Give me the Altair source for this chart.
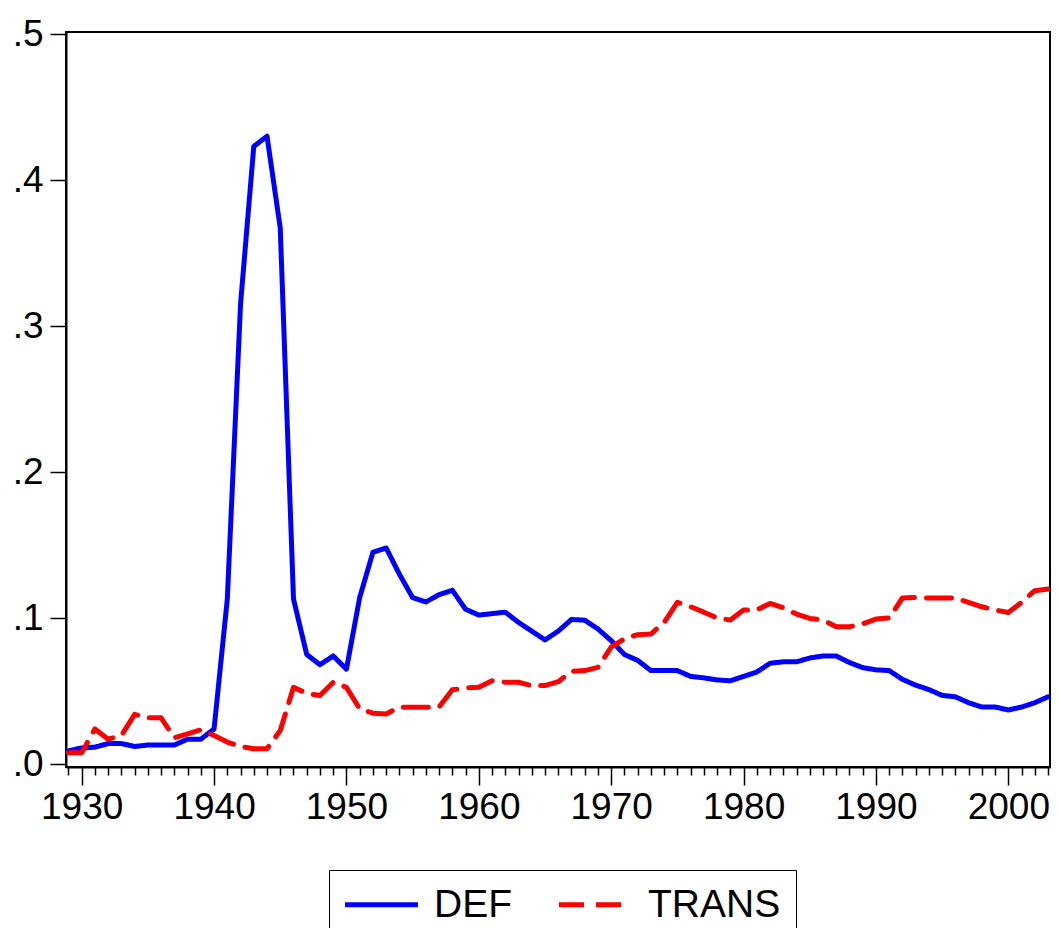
import altair as alt
import pandas as pd

years = list(range(1929, 2004))

def_vals = [
    0.009, 0.011, 0.0115, 0.014, 0.014, 0.012, 0.013, 0.013, 0.013, 0.017,   # 1929-1938
    0.017, 0.024, 0.113, 0.315, 0.423, 0.430, 0.367, 0.113, 0.075, 0.068,    # 1939-1948
    0.074, 0.065, 0.114, 0.145, 0.148, 0.130, 0.114, 0.111, 0.116, 0.119,    # 1949-1958
    0.106, 0.102, 0.103, 0.104, 0.097, 0.091, 0.085, 0.091, 0.099, 0.0985,   # 1959-1968
    0.0925, 0.0845, 0.075, 0.071, 0.064, 0.064, 0.064, 0.060, 0.059, 0.0576, # 1969-1978
    0.057, 0.060, 0.063, 0.069, 0.070, 0.070, 0.0726, 0.074, 0.074, 0.0695,  # 1979-1988
    0.066, 0.0645, 0.064, 0.058, 0.054, 0.051, 0.047, 0.046, 0.042, 0.039,   # 1989-1998
    0.039, 0.037, 0.039, 0.042, 0.046,                                       # 1999-2003
]

trans_vals = [
    0.0077, 0.0077, 0.024, 0.017, 0.0195, 0.034, 0.0316, 0.0316, 0.018, 0.0206,  # 1929-1938
    0.0234, 0.0195, 0.015, 0.012, 0.0104, 0.0104, 0.0229, 0.0525, 0.0484, 0.0469, # 1939-1948
    0.056, 0.0525, 0.0378, 0.0348, 0.0343, 0.0389, 0.0389, 0.0389, 0.039, 0.0508, # 1949-1958
    0.0521, 0.0525, 0.057, 0.056, 0.056, 0.0537, 0.0537, 0.0564, 0.0635, 0.064,   # 1959-1968
    0.0662, 0.080, 0.0857, 0.0886, 0.089, 0.097, 0.1107, 0.1077, 0.104, 0.100,    # 1969-1978
    0.0986, 0.1055, 0.1055, 0.110, 0.107, 0.1027, 0.0997, 0.0986, 0.094, 0.094,   # 1979-1988
    0.096, 0.0993, 0.100, 0.1137, 0.114, 0.1137, 0.1137, 0.1137, 0.1107, 0.1077,  # 1989-1998
    0.1055, 0.1038, 0.1107, 0.1187, 0.1198,                                       # 1999-2003
]

series_names = ["DEF", "TRANS"]
series_colors = ["#0000ff", "#ff0000"]
series_dashes = [[1, 0], [25, 12]]
x_ticks = list(range(1929, 2004))
y_ticks = [0.0, 0.1, 0.2, 0.3, 0.4, 0.5]

df = pd.DataFrame({
    "year": years + years,
    "value": def_vals + trans_vals,
    "series": [series_names[0]] * len(years) + [series_names[1]] * len(years),
})

FONT = "Liberation Sans, Arial, sans-serif"

legend = alt.Legend(
    title=None,
    orient="none",
    legendX=263,
    legendY=838,
    direction="horizontal",
    strokeColor="black",
    fillColor="white",
    padding=15,
    cornerRadius=0,
    labelFont=FONT,
    labelFontSize=39,
    labelColor="black",
    labelOffset=33,
    columnPadding=36,
    symbolOffset=18,
    symbolType="M-2.5,0L2.5,0",
    symbolSize=853,
    symbolStrokeWidth=5,
)

chart = alt.Chart(df).mark_line(
    strokeWidth=5, strokeCap="round", strokeJoin="round", clip=True
).encode(
    x=alt.X(
        "year:Q",
        scale=alt.Scale(domain=[1928.814, 2003.15], nice=False, zero=False),
        axis=alt.Axis(
            title=None,
            values=x_ticks,
            grid=False,
            tickSize={"condition": {"test": "datum.value % 10 === 0", "value": 18}, "value": 8},
            labelExpr="datum.value % 10 === 0 ? '' + datum.value : ''",
            labelOverlap=False,
            labelFlush=False,
            labelPadding=4,
        ),
    ),
    y=alt.Y(
        "value:Q",
        scale=alt.Scale(domain=[-0.00205, 0.50137], nice=False, zero=False),
        axis=alt.Axis(
            title=None,
            values=y_ticks,
            grid=False,
            tickSize=16,
            labelPadding=7,
            labelExpr="slice(format(datum.value, '.1f'), 1)",
            labelOverlap=False,
            labelFlush=False,
        ),
    ),
    color=alt.Color(
        "series:N",
        scale=alt.Scale(domain=series_names, range=series_colors),
        legend=legend,
    ),
    strokeDash=alt.StrokeDash(
        "series:N",
        scale=alt.Scale(domain=series_names, range=series_dashes),
        legend=legend,
    ),
).properties(
    width=984,
    height=735,
    autosize=alt.AutoSizeParams(type="none"),
    padding={"left": 58, "top": 24, "right": 1, "bottom": 161},
    background="white",
).configure_view(
    stroke="black",
    strokeWidth=2,
).configure_axis(
    domainColor="black",
    domainWidth=2,
    tickColor="black",
    tickWidth=1.5,
    labelColor="black",
    labelFont=FONT,
    labelFontSize=37,
)

chart.save("out.html", embed_options={"renderer": "svg", "actions": False})
